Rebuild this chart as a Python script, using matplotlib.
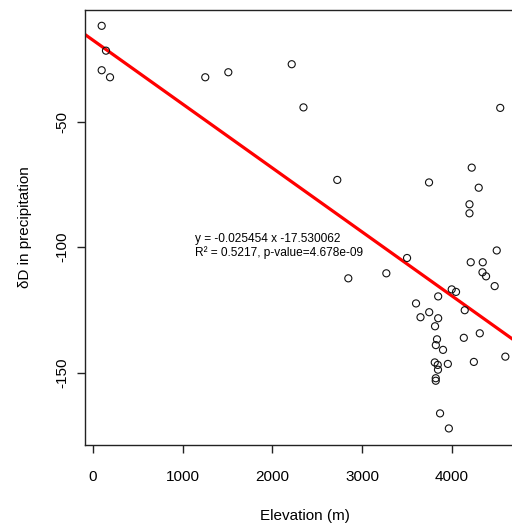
import matplotlib
matplotlib.use("Agg")
import matplotlib.pyplot as plt
import numpy as np

plt.rcParams['font.family'] = ['Liberation Sans', 'DejaVu Sans']

# elevation (m) and deltaD in precipitation
elevation = [97, 145, 97, 190, 1252, 1509, 2216, 2347, 2724, 3747,
             4541, 4223, 4301, 4198, 4198, 4502, 3502, 4212, 4346, 4343,
             4383, 4479, 4000, 4048, 3849, 2847, 3271, 3602, 4145, 3749,
             3652, 3849, 3814, 4313, 3836, 4135, 3823, 3903, 4598, 3811,
             3844, 3847, 3957, 4247, 3822, 3822, 3870, 3968]
delta_d = [-11.8, -21.7, -29.5, -32.3, -32.3, -30.3, -27.1, -44.3, -73.2, -74.2,
           -44.5, -68.3, -76.3, -82.9, -86.5, -101.3, -104.3, -106.0, -106.0, -110.0,
           -111.6, -115.5, -116.8, -117.8, -119.6, -112.4, -110.4, -122.4, -125.1, -125.9,
           -127.9, -128.3, -131.5, -134.3, -136.7, -136.1, -139.0, -140.9, -143.6, -145.9,
           -146.9, -148.8, -146.5, -145.7, -152.2, -153.2, -166.2, -172.2]

slope = -0.025454
intercept = -17.530062
eq_text = "y = -0.025454 x -17.530062"
r2_text = "R\u00b2 = 0.5217, p-value=4.678e-09"

fig = plt.figure(figsize=(5.12, 5.25), dpi=100)
# plot region runs a little past the right edge of the picture
ax = fig.add_axes([85 / 512, 80 / 525, (524 - 85) / 512, 435 / 525])

ax.scatter(elevation, delta_d, s=26, facecolors='none', edgecolors='#111111',
           linewidths=0.8, zorder=3)
ax.axline((0, intercept), slope=slope, color='#ff0000', lw=2.3, zorder=2)

ax.text(1137, -96.7, eq_text, fontsize=8.6, va='center', ha='left')
ax.text(1137, -102.3, r2_text, fontsize=8.6, va='center', ha='left')

ax.set_xlim(-89, 4806)
ax.set_ylim(-178.8, -5.5)
ax.set_xticks([0, 1000, 2000, 3000, 4000])
ax.set_yticks([-150, -100, -50])
ax.set_yticklabels(['-150', '-100', '-50'], rotation=90, va='center')

for s in ax.spines.values():
    s.set_linewidth(1.0)
    s.set_color('#222222')

ax.tick_params(axis='both', direction='out', length=6, width=1.0,
               colors='#222222', labelsize=11, labelcolor='black')
ax.tick_params(axis='x', pad=12)
ax.tick_params(axis='y', pad=5)

ax.set_xlabel("Elevation (m)", fontsize=11, labelpad=18)
ax.set_ylabel("\u03b4D in precipitation", fontsize=11, labelpad=17)

fig.savefig("out.png", dpi=100)
